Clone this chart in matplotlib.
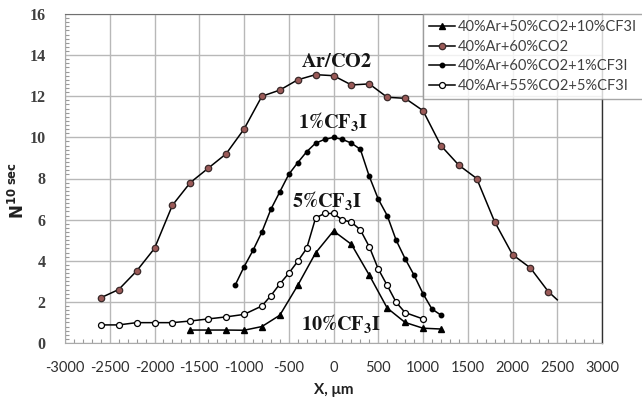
import matplotlib
matplotlib.use("Agg")
import matplotlib.pyplot as plt
from matplotlib.ticker import MultipleLocator

plt.rcParams['mathtext.fontset'] = 'stix'
plt.rcParams['axes.unicode_minus'] = False

# ---- data ----
x_arco2 = [-2600, -2400, -2200, -2000, -1800, -1600, -1400, -1200, -1000, -800, -600, -400, -200, 0,
           200, 400, 600, 800, 1000, 1200, 1400, 1600, 1800, 2000, 2200, 2400, 2500]
y_arco2 = [2.2, 2.6, 3.5, 4.6, 6.7, 7.8, 8.5, 9.2, 10.4, 12.0, 12.3, 12.8, 13.05, 13.0,
           12.55, 12.6, 11.95, 11.9, 11.3, 9.6, 8.65, 8.0, 5.9, 4.3, 3.65, 2.5, 2.1]

x_cf1 = [-1100, -1000, -900, -800, -700, -600, -500, -400, -300, -200, -100, 0,
         100, 200, 300, 400, 500, 600, 700, 800, 900, 1000, 1100, 1200]
y_cf1 = [2.8, 3.7, 4.5, 5.4, 6.5, 7.35, 8.2, 8.77, 9.3, 9.72, 9.9, 10.0,
         9.9, 9.72, 9.42, 8.1, 7.0, 6.2, 5.0, 4.1, 3.3, 2.4, 1.65, 1.36]

x_cf5 = [-2600, -2400, -2200, -2000, -1800, -1600, -1400, -1200, -1000, -800, -700, -600, -500, -400, -300,
         -200, -100, 0, 100, 200, 300, 400, 500, 600, 700, 800, 1000]
y_cf5 = [0.88, 0.88, 0.99, 0.99, 0.99, 1.07, 1.17, 1.27, 1.39, 1.8, 2.3, 2.87, 3.39, 3.97, 4.6,
         6.08, 6.3, 6.3, 5.98, 5.88, 5.5, 4.68, 3.6, 2.8, 1.98, 1.48, 1.17]

x_cf10 = [-1600, -1400, -1200, -1000, -800, -600, -400, -200, 0, 200, 400, 600, 800, 1000, 1200]
y_cf10 = [0.63, 0.63, 0.63, 0.62, 0.8, 1.35, 2.8, 4.38, 5.45, 4.8, 3.3, 1.7, 1.0, 0.72, 0.68]

legend_labels = ["40%Ar+50%CO2+10%CF3I", "40%Ar+60%CO2",
                 "40%Ar+60%CO2+1%CF3I", "40%Ar+55%CO2+5%CF3I"]
x_ticks = [-3000, -2500, -2000, -1500, -1000, -500, 0, 500, 1000, 1500, 2000, 2500, 3000]
y_ticks = [0, 2, 4, 6, 8, 10, 12, 14, 16]

# ---- figure ----
fig = plt.figure(figsize=(6.42, 4.03), dpi=100)
ax = fig.add_axes([65/642, 1-343/403, (602-65)/642, (343-14)/403])

lw = 1.1
h10, = ax.plot(x_cf10, y_cf10, color='black', lw=lw, marker='^', ms=4,
               mfc='black', mec='black', label=legend_labels[0], zorder=5)
h0, = ax.plot(x_arco2, y_arco2, color='black', lw=lw, marker='o', ms=4.6,
              mfc='#9b5a58', mec='#3a2a2a', mew=0.9, markevery=list(range(len(x_arco2)-1)),
              label=legend_labels[1], zorder=5)
h1, = ax.plot(x_cf1, y_cf1, color='black', lw=lw, marker='o', ms=3.2,
              mfc='black', mec='black', label=legend_labels[2], zorder=5)
h5, = ax.plot(x_cf5, y_cf5, color='black', lw=lw, marker='o', ms=4.3,
              mfc='white', mec='black', mew=0.9, label=legend_labels[3], zorder=5)

ax.set_xlim(-3000, 3000)
ax.set_ylim(0, 16)
ax.set_xticks(x_ticks)
ax.set_yticks(y_ticks)
ax.xaxis.set_minor_locator(MultipleLocator(100))
ax.yaxis.set_minor_locator(MultipleLocator(0.2))
ax.grid(True, which='major', color='#b8b8b8', lw=1.0)
ax.set_axisbelow(True)

ax.tick_params(axis='both', which='major', length=0)
ax.tick_params(axis='both', which='minor', direction='in', length=3, color='#999999', width=0.8)
ax.tick_params(axis='x', which='major', pad=13)
ax.tick_params(axis='y', which='major', pad=14)

for lab in ax.get_xticklabels():
    lab.set_fontfamily('Lato')
    lab.set_fontsize(10.5)
    lab.set_color('#303030')
for lab in ax.get_yticklabels():
    lab.set_fontfamily('Liberation Serif')
    lab.set_fontweight('bold')
    lab.set_fontsize(11.5)
    lab.set_color('#404040')

ax.spines['left'].set_color('#aaaaaa')
ax.spines['bottom'].set_color('#aaaaaa')
ax.spines['top'].set_color('#707070')
ax.spines['right'].set_color('#303030')
ax.spines['right'].set_linewidth(1.0)

ax.set_xlabel("X, μm", fontfamily='Lato', fontweight='bold', fontsize=11, labelpad=6, color='#202020')
fig.text(18/642, 1-190/403, r"$\mathbf{N^{10\ sec}}$", rotation=90,
         ha='center', va='center', fontsize=12, color='#202020', math_fontfamily='dejavusans')

# annotations
ann = dict(ha='center', va='center', fontsize=14.5, color='#151515', zorder=6)
ax.text(30, 13.7, r"$\mathbf{Ar/CO2}$", **ann)
ax.text(-10, 10.75, r"$\mathbf{1\%CF_3I}$", **ann)
ax.text(-70, 6.95, r"$\mathbf{5\%CF_3I}$", **ann)
ax.text(80, 0.95, r"$\mathbf{10\%CF_3I}$", **ann)

leg = fig.legend(handles=[h10, h0, h1, h5], loc='upper left',
                 bbox_to_anchor=(423/642, 1-14/403), frameon=True, fancybox=False,
                 prop={'family': 'Lato', 'size': 10.5}, handlelength=1.8, handletextpad=0.2,
                 borderpad=0.4, labelspacing=0.4, borderaxespad=0)
leg.get_frame().set_edgecolor('#909090')
leg.get_frame().set_linewidth(1.0)
for t in leg.get_texts():
    t.set_color('#404040')

fig.savefig("out.png", dpi=100)
